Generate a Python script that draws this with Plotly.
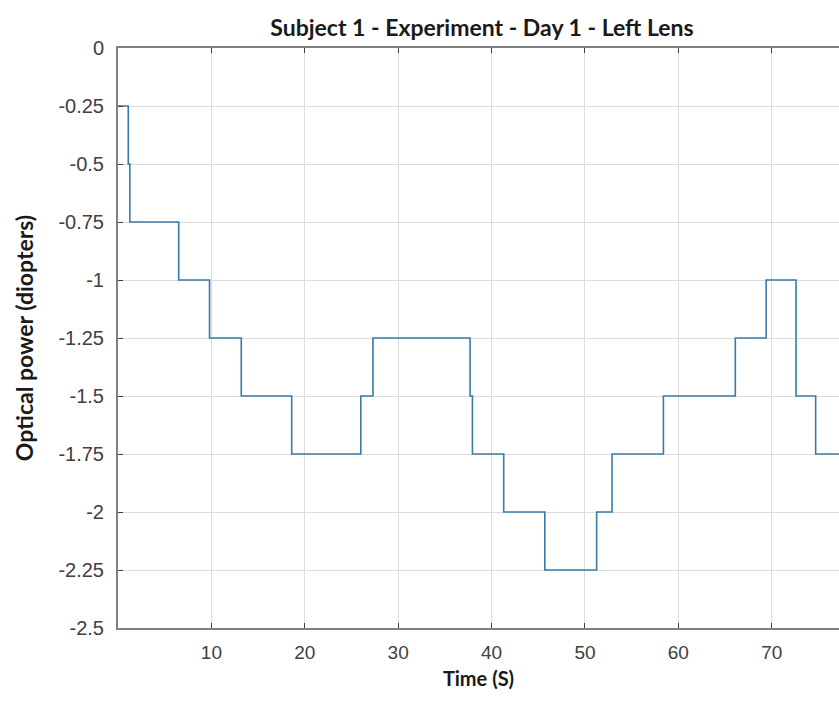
import plotly.graph_objects as go

# Step change times (s) and optical power values (diopters)
time_s = [0, 1.1, 1.27, 6.5, 9.8, 13.2, 18.6, 26.0, 27.3, 37.7, 37.95, 41.3,
          45.7, 51.25, 52.9, 58.4, 66.1, 69.4, 72.6, 74.7, 78.0]
power_d = [-0.25, -0.5, -0.75, -1.0, -1.25, -1.5, -1.75, -1.5, -1.25, -1.5, -1.75, -2.0,
           -2.25, -2.0, -1.75, -1.5, -1.25, -1.0, -1.5, -1.75, -1.75]

x_ticks = [10, 20, 30, 40, 50, 60, 70]
y_ticks = [0, -0.25, -0.5, -0.75, -1, -1.25, -1.5, -1.75, -2, -2.25, -2.5]
y_tick_text = ["0", "-0.25", "-0.5", "-0.75", "-1", "-1.25", "-1.5", "-1.75", "-2", "-2.25", "-2.5"]

fig = go.Figure()
fig.add_trace(go.Scatter(
    x=time_s, y=power_d, mode="lines", line_shape="hv",
    line=dict(color="#3a7aa6", width=1.6), showlegend=False,
))

axis_common = dict(
    showgrid=True, gridcolor="#dcdcdc", gridwidth=1,
    zeroline=False, showline=True, linecolor="#808080", linewidth=2,
    ticks="inside", ticklen=5, tickcolor="#404040", tickwidth=1,
    tickfont=dict(family="Liberation Sans, Arial", size=19, color="#404040"),
)

fig.update_layout(
    width=839, height=711,
    margin=dict(l=118, r=0, t=48, b=83),
    paper_bgcolor="white", plot_bgcolor="white",
    title=dict(text="<b>Subject 1 - Experiment - Day 1 - Left Lens</b>",
               x=482 / 839, xref="container", xanchor="center",
               y=1 - 28 / 711, yref="container", yanchor="middle",
               font=dict(family="Lato", size=23, color="#1a1a1a")),
    xaxis=dict(range=[0, 77.2], tickvals=x_ticks, mirror="ticks",
               ticklabelstandoff=6,
               title=dict(text="<b>Time (S)</b>", standoff=10,
                          font=dict(family="Lato", size=20, color="#1a1a1a")),
               **axis_common),
    yaxis=dict(range=[-2.5, 0], tickvals=y_ticks, ticktext=y_tick_text,
               ticklabelstandoff=8,
               tickfont=dict(family="Liberation Sans, Arial", size=20, color="#404040"),
               title=dict(text="<b>Optical power (diopters)</b>", standoff=18,
                          font=dict(family="Lato", size=23, color="#1a1a1a")),
               **{k: v for k, v in axis_common.items() if k != "tickfont"}),
)

fig.write_html("out.html")
